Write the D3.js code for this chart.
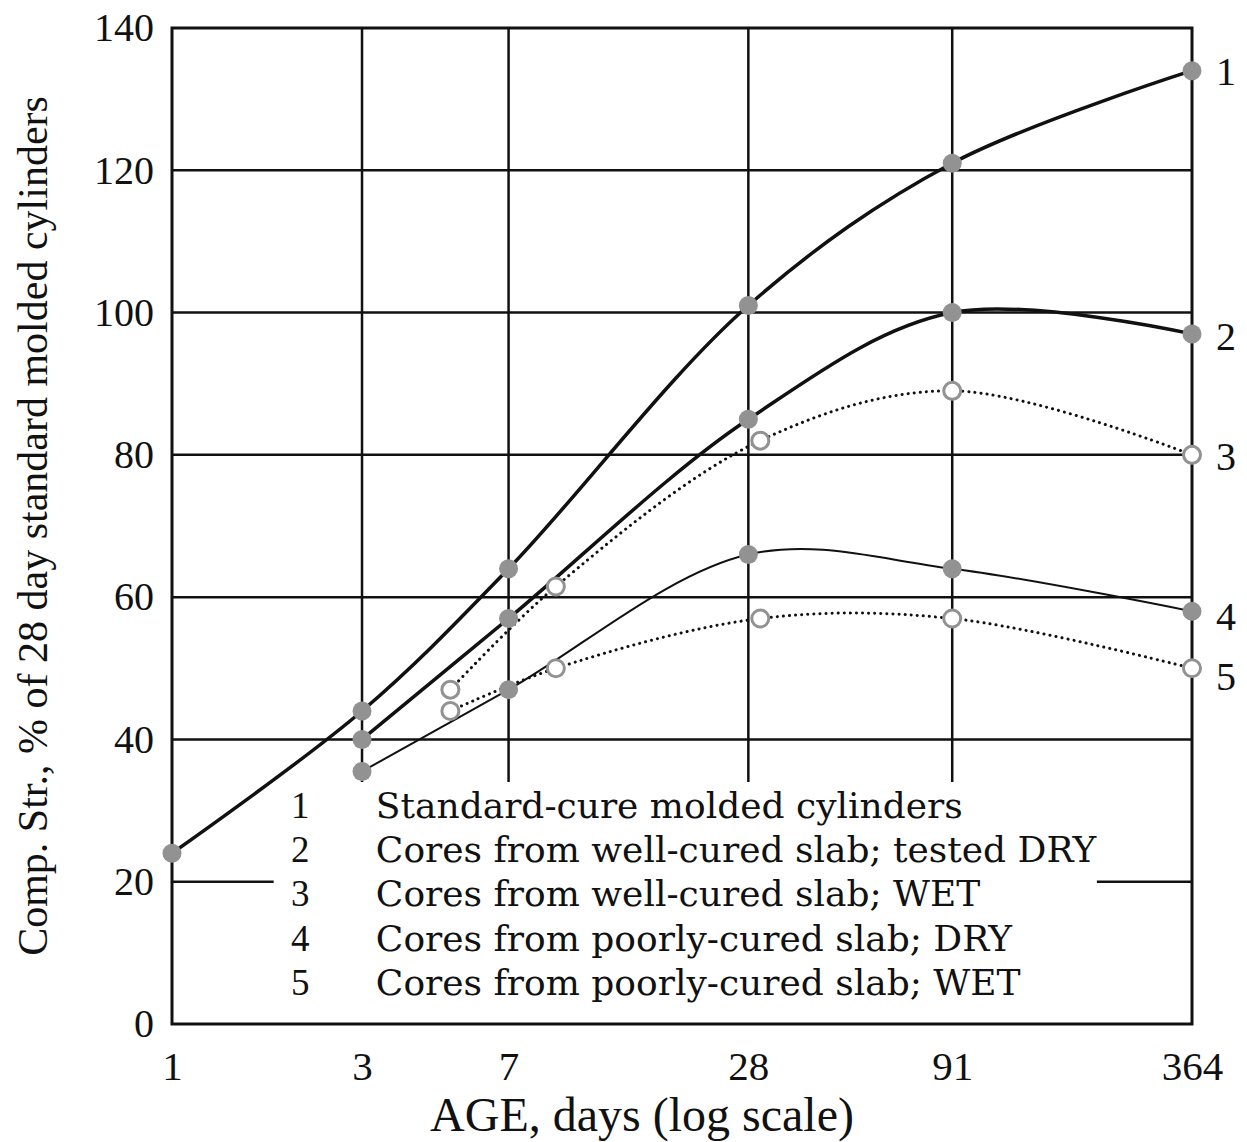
<!DOCTYPE html>
<html>
<head>
<meta charset="utf-8">
<script src="https://cdn.jsdelivr.net/npm/d3@7"></script>
<style>
  body { margin: 0; background: #fff; }
  svg text { font-family: "Liberation Serif", "DejaVu Serif", serif; fill: #111; }
</style>
</head>
<body>
<div id="chart"></div>
<script>
// values
const ageTicks = [1, 3, 7, 28, 91, 364];
const gridDays = [3, 7, 28, 91];
const strengthTicks = [0, 20, 40, 60, 80, 100, 120, 140];

const days1 = [1, 3, 7, 28, 91, 364];
const vals1 = [24, 44, 64, 101, 121, 134];
const days2 = [3, 7, 28, 91, 364];
const vals2 = [40, 57, 85, 100, 97];
const days3 = [5, 9.2, 30, 91, 364];
const vals3 = [47, 61.5, 82, 89, 80];
const days4 = [3, 7, 28, 91, 364];
const vals4 = [35.5, 47, 66, 64, 58];
const days5 = [5, 9.2, 30, 91, 364];
const vals5 = [44, 50, 57, 57, 50];

const seriesLabels = ['1', '2', '3', '4', '5'];
const legendText = [
  'Standard-cure molded cylinders',
  'Cores from well-cured slab; tested DRY',
  'Cores from well-cured slab; WET',
  'Cores from poorly-cured slab; DRY',
  'Cores from poorly-cured slab; WET'
];

const W = 1247, H = 1142;
const margin = { top: 28, right: 55, bottom: 118, left: 172 };
const width = W - margin.left - margin.right;
const height = H - margin.top - margin.bottom;

const svg = d3.select('#chart').append('svg')
  .attr('width', W)
  .attr('height', H);
const g = svg.append('g')
  .attr('transform', `translate(${margin.left},${margin.top})`);

const x = d3.scaleLog().domain([1, 364]).range([0, width]);
const y = d3.scaleLinear().domain([0, 140]).range([height, 0]);

// horizontal grid
g.append('g').selectAll('line')
  .data(strengthTicks.filter(d => d > 0 && d < 140))
  .enter().append('line')
  .attr('x1', 0).attr('x2', width)
  .attr('y1', d => y(d)).attr('y2', d => y(d))
  .attr('stroke', '#111').attr('stroke-width', 2.5);

// vertical grid stops above the legend
g.append('g').selectAll('line')
  .data(gridDays)
  .enter().append('line')
  .attr('x1', d => x(d)).attr('x2', d => x(d))
  .attr('y1', 0).attr('y2', y(34))
  .attr('stroke', '#111').attr('stroke-width', 2.5);

// legend box hides the 20% line
g.append('rect')
  .attr('x', x(1.8)).attr('y', y(33))
  .attr('width', x(210) - x(1.8))
  .attr('height', y(1.5) - y(33))
  .attr('fill', '#fff');

// frame
g.append('rect')
  .attr('width', width).attr('height', height)
  .attr('fill', 'none').attr('stroke', '#111').attr('stroke-width', 3);

// axes
const yAxis = g.append('g')
  .call(d3.axisLeft(y).tickValues(strengthTicks).tickSize(0).tickPadding(18));
yAxis.select('.domain').remove();
yAxis.selectAll('text').attr('font-size', 40).attr('dy', '0.32em')
  .style('font-family', '"Liberation Serif", serif');

const xAxis = g.append('g')
  .attr('transform', `translate(0,${height})`)
  .call(d3.axisBottom(x).tickValues(ageTicks).tickFormat(d3.format('d')).tickSize(0).tickPadding(27));
xAxis.select('.domain').remove();
xAxis.selectAll('text').attr('font-size', 41)
  .style('font-family', '"Liberation Serif", serif');

svg.append('text')
  .attr('x', 642)
  .attr('y', 1131)
  .attr('text-anchor', 'middle')
  .attr('font-size', 48)
  .text('AGE, days (log scale)');

svg.append('text')
  .attr('transform', `translate(47,${margin.top + y(70)}) rotate(-90)`)
  .attr('text-anchor', 'middle')
  .attr('font-size', 42)
  .text('Comp. Str., % of 28 day standard molded cylinders');

// curves
const series = [
  { days: days1, vals: vals1, width: 3.5, dash: null, open: false },
  { days: days2, vals: vals2, width: 3.5, dash: null, open: false },
  { days: days3, vals: vals3, width: 3, dash: '0.1 6', open: true },
  { days: days4, vals: vals4, width: 2, dash: null, open: false },
  { days: days5, vals: vals5, width: 3, dash: '0.1 6', open: true }
];

const line = d3.line()
  .x(d => x(d[0]))
  .y(d => y(d[1]))
  .curve(d3.curveCatmullRom.alpha(0.5));

series.forEach(s => {
  const pts = s.days.map((d, i) => [d, s.vals[i]]);
  g.append('path')
    .datum(pts)
    .attr('d', line)
    .attr('fill', 'none')
    .attr('stroke', '#111')
    .attr('stroke-width', s.width)
    .attr('stroke-linecap', s.dash ? 'round' : 'butt')
    .attr('stroke-dasharray', s.dash);
});

series.forEach(s => {
  const pts = s.days.map((d, i) => [d, s.vals[i]]);
  g.append('g').selectAll('circle')
    .data(pts)
    .enter().append('circle')
    .attr('cx', d => x(d[0]))
    .attr('cy', d => y(d[1]))
    .attr('r', s.open ? 8.5 : 9.5)
    .attr('fill', s.open ? '#fff' : '#929292')
    .attr('stroke', '#929292')
    .attr('stroke-width', s.open ? 3 : 0);
});

// curve numbers on the right
g.append('g').selectAll('text')
  .data(series)
  .enter().append('text')
  .attr('x', width + 24)
  .attr('y', (s, i) => y(s.vals[s.vals.length - 1]) + [0, 2, 1, 5, 8][i])
  .attr('dy', '0.35em')
  .attr('font-size', 40)
  .text((s, i) => seriesLabels[i]);

// legend
const legend = g.append('g').selectAll('g')
  .data(legendText)
  .enter().append('g')
  .attr('transform', (d, i) => `translate(0,${y(29) + i * 44.3})`);
legend.append('text')
  .attr('x', x(2.1))
  .attr('text-anchor', 'middle')
  .attr('font-size', 37)
  .text((d, i) => seriesLabels[i]);
legend.append('text')
  .attr('x', x(3.25))
  .attr('font-size', 36)
  .style('font-family', '"DejaVu Serif", serif')
  .text(d => d);
</script>
</body>
</html>
